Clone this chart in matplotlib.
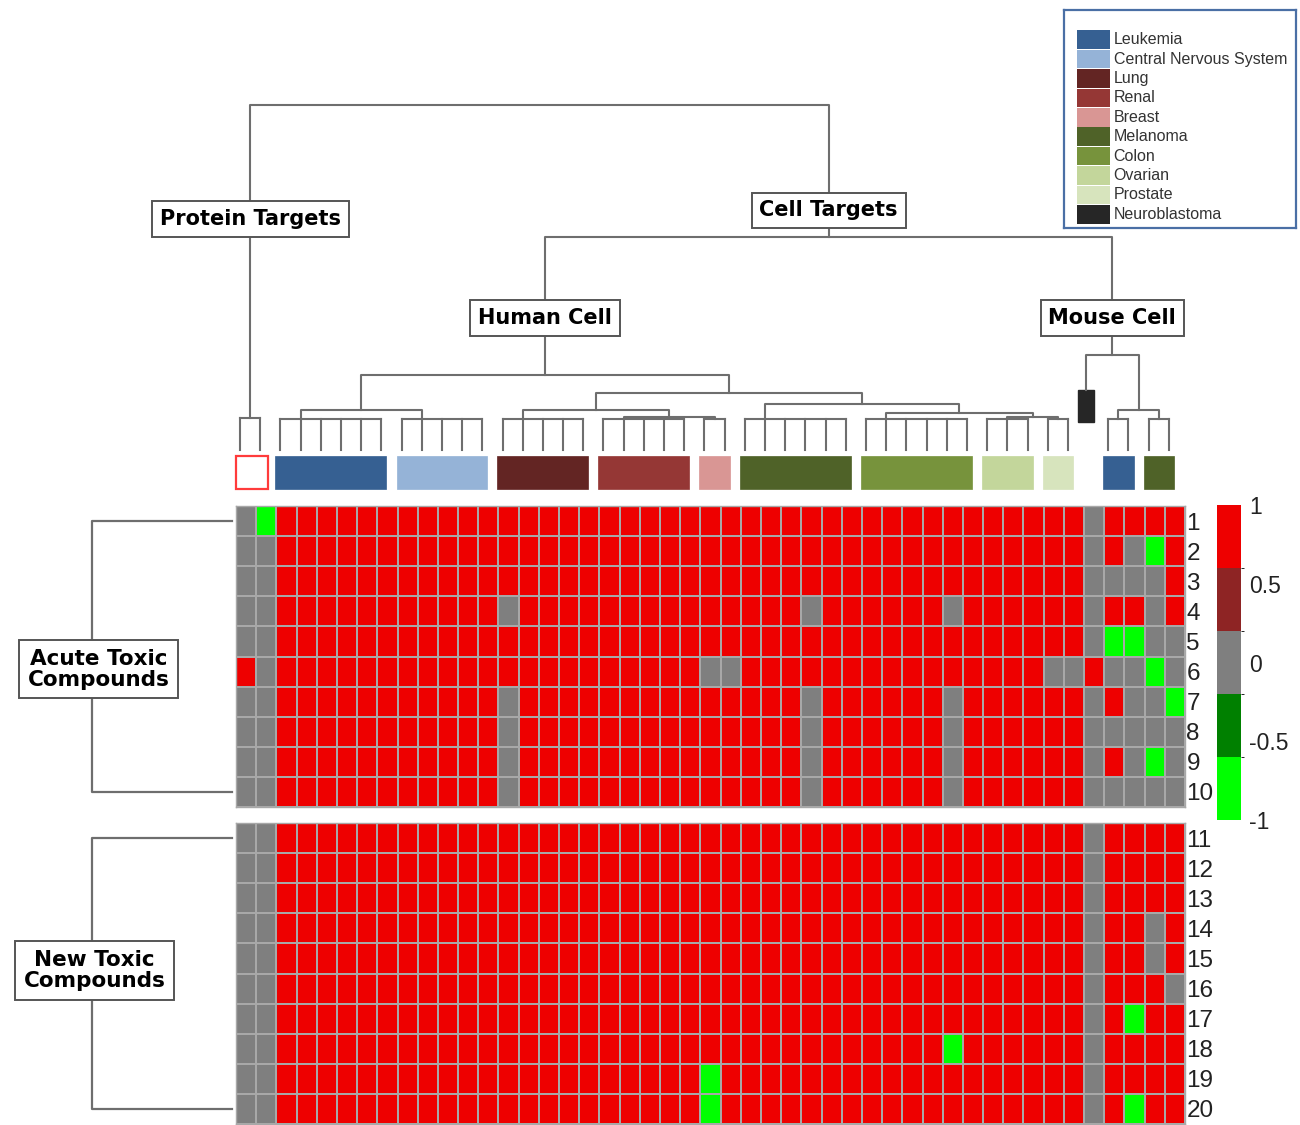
import numpy as np
import matplotlib
matplotlib.use("Agg")
import matplotlib.pyplot as plt
import matplotlib.transforms as mtransforms
from matplotlib.colors import ListedColormap, BoundaryNorm
from matplotlib.patches import Rectangle

# ---- data ----
# column groups, left to right (one column per cell line / target)
group_names = ["Protein Targets", "Leukemia", "Central Nervous System", "Lung", "Renal",
               "Breast", "Melanoma", "Colon", "Ovarian", "Prostate", "Neuroblastoma",
               "Mouse Leukemia", "Mouse Melanoma"]
group_sizes = [2, 6, 5, 5, 5, 2, 6, 6, 3, 2, 1, 2, 2]
group_colors = ["white", "#366092", "#95B3D7", "#632523", "#953735", "#D99694",
                "#4F6228", "#77933C", "#C3D69B", "#D7E4BD", "#262626", "#366092", "#4F6228"]
group_anchor = [0.5, 1, 1, 1, 1, 0.5, 1, 1, 1, 0.5, 0, 0.5, 0.5]
group_level = [3.2, 3.1, 3.1, 3.1, 3.1, 3.1, 3.1, 3.1, 3.1, 3.1, 6.0, 3.1, 3.1]

# dendrogram merges: (left, right, height, new node)
merges = [
    ("Leukemia", "Central Nervous System", 4.0, "lc"),
    ("Renal", "Breast", 3.3, "rb"),
    ("Lung", "rb", 4.0, "lrb"),
    ("Ovarian", "Prostate", 3.3, "op"),
    ("Colon", "op", 3.7, "cop"),
    ("Melanoma", "cop", 4.6, "mcop"),
    ("lrb", "mcop", 5.7, "solid"),
    ("lc", "solid", 7.5, "Human Cell"),
    ("Mouse Leukemia", "Mouse Melanoma", 4.0, "mm"),
    ("Neuroblastoma", "mm", 9.5, "Mouse Cell"),
    ("Human Cell", "Mouse Cell", 21.3, "Cell Targets"),
    ("Protein Targets", "Cell Targets", 34.5, "root"),
]
node_labels = {"Protein Targets": 23.1, "Cell Targets": 23.95,
               "Human Cell": 13.2, "Mouse Cell": 13.2}

legend_names = ["Leukemia", "Central Nervous System", "Lung", "Renal", "Breast",
                "Melanoma", "Colon", "Ovarian", "Prostate", "Neuroblastoma"]
legend_colors = ["#366092", "#95B3D7", "#632523", "#953735", "#D99694",
                 "#4F6228", "#77933C", "#C3D69B", "#D7E4BD", "#262626"]

# heatmap rows: + = 1, 0 = 0, - = -1 (groups separated by spaces)
acute_rows = [
    "0- ++++++ +++++ +++++ +++++ ++ ++++++ ++++++ +++ ++ 0 ++ ++",
    "00 ++++++ +++++ +++++ +++++ ++ ++++++ ++++++ +++ ++ 0 +0 -+",
    "00 ++++++ +++++ +++++ +++++ ++ ++++++ ++++++ +++ ++ 0 00 0+",
    "00 ++++++ +++++ 0++++ +++++ ++ +++0++ ++++0+ +++ ++ 0 ++ 0+",
    "00 ++++++ +++++ +++++ +++++ ++ ++++++ ++++++ +++ ++ 0 -- 00",
    "+0 ++++++ +++++ +++++ +++++ 00 ++++++ ++++++ +++ 00 + 00 -0",
    "00 ++++++ +++++ 0++++ +++++ ++ +++0++ ++++0+ +++ ++ 0 +0 0-",
    "00 ++++++ +++++ 0++++ +++++ ++ +++0++ ++++0+ +++ ++ 0 00 00",
    "00 ++++++ +++++ 0++++ +++++ ++ +++0++ ++++0+ +++ ++ 0 +0 -0",
    "00 ++++++ +++++ 0++++ +++++ ++ +++0++ ++++0+ +++ ++ 0 00 00",
]
new_rows = [
    "00 ++++++ +++++ +++++ +++++ ++ ++++++ ++++++ +++ ++ 0 ++ ++",
    "00 ++++++ +++++ +++++ +++++ ++ ++++++ ++++++ +++ ++ 0 ++ ++",
    "00 ++++++ +++++ +++++ +++++ ++ ++++++ ++++++ +++ ++ 0 ++ ++",
    "00 ++++++ +++++ +++++ +++++ ++ ++++++ ++++++ +++ ++ 0 ++ 0+",
    "00 ++++++ +++++ +++++ +++++ ++ ++++++ ++++++ +++ ++ 0 ++ 0+",
    "00 ++++++ +++++ +++++ +++++ ++ ++++++ ++++++ +++ ++ 0 ++ +0",
    "00 ++++++ +++++ +++++ +++++ ++ ++++++ ++++++ +++ ++ 0 +- ++",
    "00 ++++++ +++++ +++++ +++++ ++ ++++++ ++++-+ +++ ++ 0 ++ ++",
    "00 ++++++ +++++ +++++ +++++ -+ ++++++ ++++++ +++ ++ 0 ++ ++",
    "00 ++++++ +++++ +++++ +++++ -+ ++++++ ++++++ +++ ++ 0 +- ++",
]
acute_labels = [str(i) for i in range(1, 11)]
new_labels = [str(i) for i in range(11, 21)]

cb_ticks = [-1, -0.5, 0, 0.5, 1]
cb_colors = ["#00FF00", "#008000", "#7F7F7F", "#8E2424", "#EE0000"]
cb_bounds = [-1, -0.6, -0.2, 0.2, 0.6, 1]


def to_matrix(rows):
    val = {"+": 1, "0": 0, "-": -1}
    return np.array([[val[c] for c in r.replace(" ", "")] for r in rows], dtype=float)


W, H = 1300, 1125
LINE = "#6e6e6e"


def px_rect(x0, y0, x1, y1):
    return [x0 / W, 1 - y1 / H, (x1 - x0) / W, (y1 - y0) / H]


fig = plt.figure(figsize=(13, 11.25), dpi=100)
cmap = ListedColormap(cb_colors)
norm = BoundaryNorm(cb_bounds, cmap.N)
ncol = sum(group_sizes)
down = mtransforms.ScaledTranslation(0, -3 / 100, fig.dpi_scale_trans)

# ---- heatmaps ----
blocks = [(acute_rows, acute_labels, 506, 807, "Acute Toxic\nCompounds", -6.8, 5.43),
          (new_rows, new_labels, 823, 1124, "New Toxic\nCompounds", -7.0, 4.9)]
for rows, labels, y0, y1, title, tx, ty in blocks:
    ax = fig.add_axes(px_rect(236, y0, 1185, y1))
    data = to_matrix(rows)
    ax.pcolormesh(np.arange(ncol + 1), np.arange(len(rows) + 1), data, cmap=cmap, norm=norm,
                  edgecolors="#a8a8a8", linewidth=1.1)
    ax.set_xlim(0, ncol)
    ax.set_ylim(len(rows), 0)
    ax.set_xticks([])
    ax.yaxis.tick_right()
    ax.set_yticks(np.arange(len(rows)) + 0.5)
    ax.set_yticklabels(labels, fontsize=17.5, family="Liberation Sans", color="#222222")
    for lab in ax.get_yticklabels():
        lab.set_transform(lab.get_transform() + down)
    ax.tick_params(axis="y", length=0, pad=1)
    for s in ax.spines.values():
        s.set_color("#a8a8a8")
        s.set_linewidth(1.0)
    # bracket on the left
    ax.plot([-0.2, -7.13, -7.13, -0.2], [0.5, 0.5, len(rows) - 0.5, len(rows) - 0.5],
            color=LINE, lw=1.6, clip_on=False)
    ax.text(tx, ty, title, ha="center", va="center", fontsize=15.5, fontweight="bold",
            family="DejaVu Sans", linespacing=1.05, clip_on=False,
            bbox=dict(boxstyle="square,pad=0.4", fc="white", ec="#555555", lw=1.4))

# ---- colorbar ----
cax = fig.add_axes(px_rect(1217, 505, 1241, 820))
sm = plt.cm.ScalarMappable(cmap=cmap, norm=norm)
cb = fig.colorbar(sm, cax=cax, ticks=cb_ticks)
cb.outline.set_visible(False)
cb.ax.set_yticklabels(["-1", "-0.5", "0", "0.5", "1"], fontsize=16.5, family="Liberation Sans",
                      color="#222222")
cb.ax.tick_params(length=0, pad=6)

# ---- dendrogram ----
dax = fig.add_axes(px_rect(236, 95, 1185, 495))
dax.set_xlim(0, ncol)
dax.set_ylim(-4.5, 35.5)
dax.axis("off")

pos = {}
start = 0
for name, n, col, anc, lev in zip(group_names, group_sizes, group_colors, group_anchor, group_level):
    leaves = start + 0.2 + np.arange(n)
    if name == "Neuroblastoma":
        dax.add_patch(Rectangle((leaves[0] - 0.5, 2.8), 0.8, lev - 2.8, fc=col, ec=col,
                                clip_on=False))
        pos[name] = (leaves[0] - 0.1, lev)
    else:
        for lx in leaves:
            dax.plot([lx, lx], [0, lev], color=LINE, lw=1.5, clip_on=False)
        dax.plot([leaves[0], leaves[-1]], [lev, lev], color=LINE, lw=1.5, clip_on=False)
        if name == "Protein Targets":
            dax.add_patch(Rectangle((start, -3.9), n - 0.4, 3.3, fc="white",
                                    ec="#ff3b3b", lw=1.6, clip_on=False))
        else:
            dax.add_patch(Rectangle((start - 0.05, -3.9), n - 0.5, 3.3, fc=col, ec=col,
                                    lw=0.5, clip_on=False))
        pos[name] = (start + 0.2 + anc, lev)
    start += n

for a, b, h, new in merges:
    xa, ha = pos[a]
    xb, hb = pos[b]
    dax.plot([xa, xa, xb, xb], [ha, h, h, hb], color=LINE, lw=1.5, clip_on=False)
    pos[new] = ((xa + xb) / 2, h)

for name, h in node_labels.items():
    x = pos[name][0]
    dax.text(x, h, name, ha="center", va="center", fontsize=15, fontweight="bold",
             family="DejaVu Sans", clip_on=False,
             bbox=dict(boxstyle="square,pad=0.38", fc="white", ec="#555555", lw=1.4))

# ---- legend ----
lax = fig.add_axes(px_rect(1064, 10, 1296, 228))
lax.set_xlim(0, 1)
lax.set_ylim(10.21, -1.03)
lax.set_xticks([])
lax.set_yticks([])
for s in lax.spines.values():
    s.set_color("#4a6fa5")
    s.set_linewidth(1.6)
for i, (nm, c) in enumerate(zip(legend_names, legend_colors)):
    lax.add_patch(Rectangle((0.056, i + 0.02), 0.142, 0.96, fc=c, ec="none"))
    lax.text(0.214, i + 0.5, nm, va="center", ha="left", fontsize=11.5,
             family="Liberation Sans", color="#333333")

fig.savefig("out.png", dpi=100)
